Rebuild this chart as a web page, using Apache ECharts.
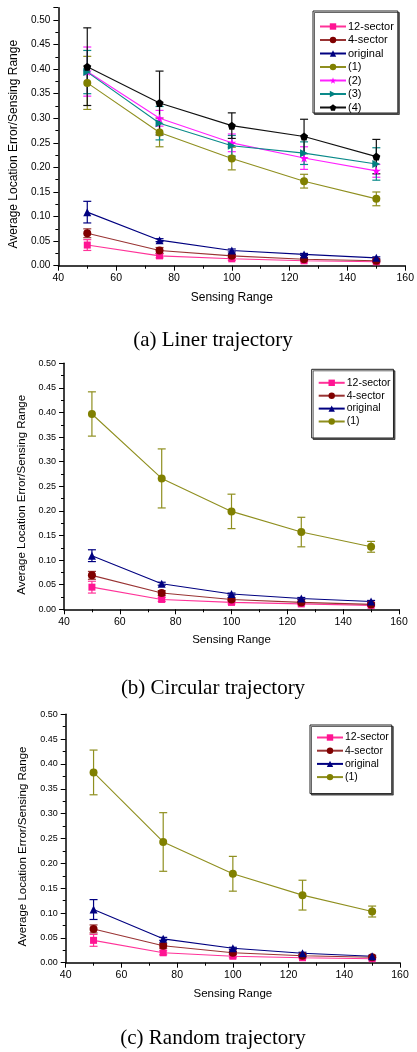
<!DOCTYPE html>
<html>
<head>
<meta charset="utf-8">
<script src="https://cdn.jsdelivr.net/npm/echarts@6/dist/echarts.min.js"></script>
<style>html,body{margin:0;padding:0;background:#fff;}#c{width:417px;height:1052px;}</style>
</head>
<body>
<div id="c"></div>
<script>
// ---------- DATA ----------
const xValues = [50, 75, 100, 125, 150];
const seriesNames = ['12-sector', '4-sector', 'original', '(1)', '(2)', '(3)', '(4)'];
const xTicks = [40, 60, 80, 100, 120, 140, 160];
const yTicks = [0, 0.05, 0.10, 0.15, 0.20, 0.25, 0.30, 0.35, 0.40, 0.45, 0.50];
const panelTitles = ['(a) Liner trajectory', '(b) Circular trajectory', '(c) Random trajectory'];
const xAxisName = 'Sensing Range';
const yAxisName = 'Average Location Error/Sensing Range';

// Panel (a) Liner trajectory
const a12 = [0.042, 0.020, 0.014, 0.010, 0.008];
const a12Err = [0.011, 0.004, 0.003, 0.002, 0.002];
const a4 = [0.066, 0.031, 0.020, 0.013, 0.010];
const a4Err = [0.009, 0.006, 0.003, 0.002, 0.002];
const aOrig = [0.109, 0.052, 0.031, 0.023, 0.016];
const aOrigErr = [0.022, 0.003, 0.003, 0.002, 0.002];
const a1 = [0.372, 0.271, 0.218, 0.172, 0.136];
const a1Err = [0.054, 0.029, 0.023, 0.014, 0.014];
const a2 = [0.395, 0.300, 0.250, 0.219, 0.193];
const a2Err = [0.050, 0.016, 0.018, 0.023, 0.013];
const a3 = [0.394, 0.290, 0.244, 0.229, 0.207];
const a3Err = [0.044, 0.034, 0.021, 0.023, 0.033];
const aFour = [0.405, 0.331, 0.285, 0.263, 0.222];
const aFourErr = [0.079, 0.065, 0.026, 0.035, 0.035];

// Panel (b) Circular trajectory
const b12 = [0.045, 0.020, 0.014, 0.011, 0.008];
const b12Err = [0.012, 0.004, 0.003, 0.002, 0.002];
const b4 = [0.069, 0.033, 0.020, 0.014, 0.010];
const b4Err = [0.008, 0.005, 0.003, 0.002, 0.002];
const bOrig = [0.109, 0.052, 0.031, 0.022, 0.016];
const bOrigErr = [0.012, 0.003, 0.002, 0.002, 0.002];
const b1 = [0.397, 0.266, 0.199, 0.157, 0.127];
const b1Err = [0.045, 0.060, 0.035, 0.030, 0.011];

// Panel (c) Random trajectory
const c12 = [0.045, 0.020, 0.013, 0.010, 0.008];
const c12Err = [0.012, 0.004, 0.003, 0.002, 0.002];
const c4 = [0.068, 0.034, 0.020, 0.014, 0.011];
const c4Err = [0.008, 0.005, 0.003, 0.002, 0.002];
const cOrig = [0.107, 0.048, 0.029, 0.019, 0.013];
const cOrigErr = [0.020, 0.003, 0.002, 0.002, 0.002];
const c1 = [0.383, 0.243, 0.179, 0.136, 0.103];
const c1Err = [0.045, 0.059, 0.035, 0.030, 0.011];

// ---------- STYLE ----------
const STAR = 'path://M0,-1 L0.2245,-0.309 L0.951,-0.309 L0.363,0.118 L0.588,0.809 L0,0.382 L-0.588,0.809 L-0.363,0.118 L-0.951,-0.309 L-0.2245,-0.309 Z';
const PENT = 'path://M0,-1 L0.951,-0.309 L0.588,0.809 L-0.588,0.809 L-0.951,-0.309 Z';
const styles = {
  '12-sector': {color: '#FF1493', line: '#FF3399', symbol: 'rect', size: 7, rot: 0},
  '4-sector': {color: '#800000', line: '#993333', symbol: 'circle', size: 8, rot: 0},
  'original': {color: '#000080', line: '#000080', symbol: 'triangle', size: 8, rot: 0},
  '(1)': {color: '#808000', line: '#8F8F1F', symbol: 'circle', size: 8, rot: 0},
  '(2)': {color: '#FF00FF', line: '#FF22FF', symbol: STAR, size: 9, rot: 0},
  '(3)': {color: '#008080', line: '#0A8A8A', symbol: 'triangle', size: 8, rot: -90},
  '(4)': {color: '#000000', line: '#111111', symbol: PENT, size: 8, rot: 0}
};

const panels = [
  {data: {'12-sector': [a12, a12Err], '4-sector': [a4, a4Err], 'original': [aOrig, aOrigErr], '(1)': [a1, a1Err], '(2)': [a2, a2Err], '(3)': [a3, a3Err], '(4)': [aFour, aFourErr]},
   grid: {left: 57, top: 7.7, width: 349, height: 258}, ymax: 0.525,
   lab: 10, xlab: 10.5, nameF: 12, yNameF: 12, yGap: 36, xGap: 26, yNamePad: 15,
   legend: {left: 313, top: 11, pad: [10, 4, 0, 6], font: 11, gap: 2.5, names: 7},
   titleY: 340},
  {data: {'12-sector': [b12, b12Err], '4-sector': [b4, b4Err], 'original': [bOrig, bOrigErr], '(1)': [b1, b1Err]},
   grid: {left: 64, top: 363.3, width: 335, height: 246}, ymax: 0.5,
   lab: 9, xlab: 10.5, nameF: 11.5, yNameF: 11.5, yGap: 31.5, xGap: 25, yNamePad: 17,
   legend: {left: 311.7, top: 369.3, pad: [8, 3, 11, 6], font: 10.5, gap: 1.9, names: 4},
   titleY: 688},
  {data: {'12-sector': [c12, c12Err], '4-sector': [c4, c4Err], 'original': [cOrig, cOrigErr], '(1)': [c1, c1Err]},
   grid: {left: 65.7, top: 714.3, width: 334.3, height: 248.4}, ymax: 0.5,
   lab: 9, xlab: 10.5, nameF: 11.5, yNameF: 11.5, yGap: 33, xGap: 25, yNamePad: 16,
   legend: {left: 310, top: 725, pad: [7, 3, 11, 6], font: 10.5, gap: 2.2, names: 4},
   titleY: 1038}
];

const FONT = 'Liberation Sans, Arial, sans-serif';
const grids = [], xAxes = [], yAxes = [], series = [], legends = [], graphics = [];

panels.forEach((p, i) => {
  grids.push(Object.assign({containLabel: false}, p.grid));
  xAxes.push({
    type: 'value', gridIndex: i, min: xTicks[0], max: xTicks[xTicks.length - 1], interval: 20,
    name: xAxisName, nameLocation: 'middle', nameGap: p.xGap,
    nameTextStyle: {fontFamily: FONT, fontSize: p.nameF, color: '#000'},
    axisLine: {show: true, onZero: false, lineStyle: {color: '#000', width: 1.5}},
    axisTick: {show: true, inside: false, length: 5, lineStyle: {color: '#000', width: 1}},
    minorTick: {show: true, splitNumber: 2, length: 3, lineStyle: {color: '#000', width: 1}},
    axisLabel: {fontFamily: FONT, fontSize: p.xlab, color: '#000', margin: 7},
    splitLine: {show: false}
  });
  yAxes.push({
    type: 'value', gridIndex: i, min: yTicks[0], max: p.ymax, interval: 0.05,
    name: yAxisName, nameLocation: 'middle', nameGap: p.yGap, nameRotate: 90,
    nameTextStyle: {fontFamily: FONT, fontSize: p.yNameF, color: '#000', padding: [0, p.yNamePad, 0, 0]},
    axisLine: {show: true, onZero: false, lineStyle: {color: '#000', width: 1.5}},
    axisTick: {show: true, inside: false, length: 5, lineStyle: {color: '#000', width: 1}},
    minorTick: {show: true, splitNumber: 2, length: 3, lineStyle: {color: '#000', width: 1}},
    axisLabel: {fontFamily: FONT, fontSize: p.lab, color: '#000', margin: 8,
      formatter: v => (yTicks.some(t => Math.abs(t - v) < 1e-9) ? v.toFixed(2) : '')},
    splitLine: {show: false}
  });
  const names = Object.keys(p.data);
  names.forEach(name => {
    const st = styles[name];
    const vals = p.data[name][0], errs = p.data[name][1];
    series.push({
      type: 'custom', name: name + ' err', xAxisIndex: i, yAxisIndex: i, z: 1, silent: true,
      data: xValues.map((x, k) => [x, vals[k] - errs[k], vals[k] + errs[k]]),
      renderItem: (params, api) => {
        const lo = api.coord([api.value(0), api.value(1)]);
        const hi = api.coord([api.value(0), api.value(2)]);
        const w = 4;
        const ls = {stroke: st.line, lineWidth: 1.2};
        return {type: 'group', children: [
          {type: 'line', shape: {x1: lo[0], y1: lo[1], x2: hi[0], y2: hi[1]}, style: ls},
          {type: 'line', shape: {x1: lo[0] - w, y1: lo[1], x2: lo[0] + w, y2: lo[1]}, style: ls},
          {type: 'line', shape: {x1: hi[0] - w, y1: hi[1], x2: hi[0] + w, y2: hi[1]}, style: ls}
        ]};
      }
    });
    series.push({
      type: 'line', name: name, xAxisIndex: i, yAxisIndex: i, z: 3,
      data: xValues.map((x, k) => [x, vals[k]]),
      symbol: st.symbol, symbolSize: st.size, symbolRotate: st.rot, showAllSymbol: true,
      itemStyle: {color: st.color},
      lineStyle: {color: st.line, width: 1.1},
      emphasis: {disabled: true}
    });
  });
  legends.push({
    data: seriesNames.slice(0, p.legend.names),
    orient: 'vertical', left: p.legend.left, top: p.legend.top,
    padding: p.legend.pad, itemGap: p.legend.gap, itemWidth: 26, itemHeight: 8,
    borderColor: '#222', borderWidth: 1, backgroundColor: '#fff',
    shadowColor: 'rgba(0,0,0,0.6)', shadowOffsetX: 1.5, shadowOffsetY: 1.5, shadowBlur: 0,
    textStyle: {fontFamily: FONT, fontSize: p.legend.font, color: '#000', padding: [0, 0, 0, -3]},
    selectedMode: false
  });
  graphics.push({
    type: 'text', x: 213, y: p.titleY,
    style: {text: panelTitles[i], font: '21px "Liberation Serif", "Times New Roman", serif',
      fill: '#000', textAlign: 'center', textVerticalAlign: 'middle'}
  });
});

const chart = echarts.init(document.getElementById('c'), null, {renderer: 'canvas'});
chart.setOption({
  animation: false,
  backgroundColor: '#fff',
  grid: grids, xAxis: xAxes, yAxis: yAxes, series: series, legend: legends,
  graphic: graphics
});
</script>
</body>
</html>
